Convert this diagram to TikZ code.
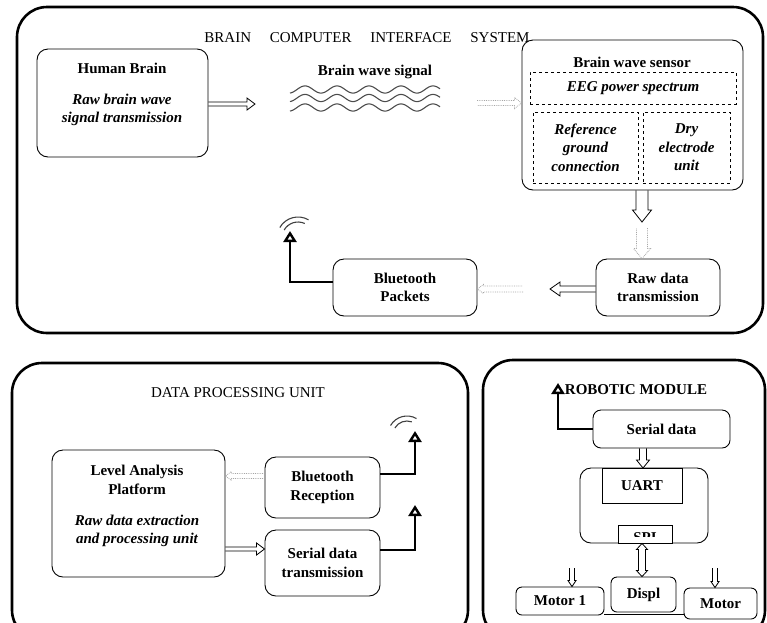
\documentclass[tikz,border=0pt]{standalone}
\usepackage{fontspec}
\setmainfont{Liberation Serif}
\usetikzlibrary{arrows.meta,positioning,calc}

\tikzset{
  panel/.style={draw, line width=2.6pt, rounded corners=30pt},
  box/.style={draw, line width=0.9pt, rounded corners=11pt, inner sep=0pt},
  plain/.style={draw, line width=0.9pt, inner sep=0pt},
  dbox/.style={draw, dashed, line width=0.8pt, inner sep=0pt},
  title/.style={font=\fontsize{15}{18}\selectfont},
  lbl/.style={font=\fontsize{15}{18.5}\selectfont\bfseries, align=center},
  ilbl/.style={font=\fontsize{15}{18.5}\selectfont\bfseries\itshape, align=center},
  faint/.style={draw=gray!70, densely dotted},
  aerial/.style={line width=2.4pt, -{Triangle[open,width=13pt,length=11pt]}},
  airwave/.style={line width=1.1pt, draw=black!75},
}

% hollow block arrow: [options]{from}{to}{half shaft}{half head}{head length}
\newcommand\fatarrow[6][]{%
  \coordinate (fabase) at ($(#3)!#6!(#2)$);
  \draw[line width=0.8pt, line join=miter, #1] ($(#2)!#4!90:(#3)$) -- ($(fabase)!#4!90:(#3)$)
    -- ($(fabase)!#5!90:(#3)$) -- (#3) -- ($(fabase)!#5!-90:(#3)$)
    -- ($(fabase)!#4!-90:(#3)$) -- ($(#2)!#4!-90:(#3)$);
}

\begin{document}
\begin{tikzpicture}[x=1pt,y=-1pt]
\useasboundingbox (0,0) rectangle (767,622);
\clip (0,0) rectangle (767,622);

% brain computer interface system
\draw[panel] (17,7) rectangle (763,333);
\node[title] (bcititle) at (367,38) {BRAIN\quad\ COMPUTER\quad\ INTERFACE\quad\ SYSTEM};

\node[box, minimum width=171pt, minimum height=108pt] (brain) at (122.5,103) {};
\node[lbl] (braintitle) at (122,68) {Human Brain};
\node[ilbl] (brainnote) at (122,110) {Raw brain wave\\signal transmission};

\node[lbl] (wavetitle) at (375,72) {Brain wave signal};
\foreach \yy in {89.5,98,107.5}
  \draw[line width=1.1pt, black!70, domain=290:440, samples=120, smooth]
    plot (\x,{\yy-3.6*sin((\x-297)*11.25)});

\node[box, minimum width=221pt, minimum height=150pt] (sensor) at (632.5,115) {};
\node[lbl] (sensortitle) at (632,62) {Brain wave sensor};
\node[dbox, ilbl, minimum width=206pt, minimum height=32pt] (eeg) at (633,88) {EEG power spectrum};
\node[dbox, ilbl, minimum width=105pt, minimum height=71pt] (refgnd) at (585.5,147.5) {Reference\\ground\\connection};
\node[dbox, ilbl, minimum width=87pt, minimum height=71pt] (dry) at (686.5,147.5) {Dry\\electrode\\unit};

\node[box, lbl, minimum width=124pt, minimum height=57pt] (rawtx) at (658,287.5) {Raw data\\transmission};
\node[box, lbl, minimum width=144pt, minimum height=57pt] (packets) at (405,287.5) {Bluetooth\\Packets};

\coordinate (wavesin) at (255,104);
\coordinate (wavesout) at (477,103);
\coordinate (sensdown) at (642,222);
\coordinate (faintdown) at (642,228);
\coordinate (rawleft) at (550,289);
\coordinate (faintleft) at (523,289);
\coordinate (bcitip) at (290,231);

\fatarrow{brain.east |- wavesin}{wavesin}{2pt}{6pt}{8pt}
\fatarrow[faint]{wavesout}{wavesout -| sensor.west}{2.5pt}{5.5pt}{7pt}
\fatarrow{sensor.south -| sensdown}{sensdown}{6pt}{9.5pt}{12pt}
\fatarrow[faint]{faintdown}{faintdown |- rawtx.north}{5.5pt}{8.5pt}{10pt}
\fatarrow{rawtx.west |- rawleft}{rawleft}{3pt}{7pt}{10pt}
\fatarrow[faint]{faintleft}{faintleft -| packets.east}{3pt}{4.5pt}{6pt}
\draw[aerial] ([yshift=5.5pt]packets.west) -| (bcitip);
\draw[airwave] (bcitip) ++(8,7) ++(-150:21) arc[start angle=-150, end angle=-60, radius=21];
\draw[airwave] (bcitip) ++(8,7) ++(-150:16) arc[start angle=-150, end angle=-65, radius=16];

% data processing unit
\draw[panel] (12,363) rectangle (468,640);
\node[title] (dputitle) at (238,393) {DATA PROCESSING UNIT};

\node[box, minimum width=173pt, minimum height=127pt] (level) at (138.5,513.5) {};
\node[lbl] (leveltitle) at (137,480) {Level Analysis\\Platform};
\node[ilbl] (levelnote) at (137,531) {Raw data extraction\\and processing unit};
\node[box, lbl, minimum width=115pt, minimum height=61pt] (btrx) at (322.5,487.5) {Bluetooth\\Reception};
\node[box, lbl, minimum width=115pt, minimum height=66pt] (sertx) at (322.5,563) {Serial data\\transmission};

\coordinate (btin) at ([yshift=11.5pt]btrx.west);
\coordinate (serin) at ([yshift=14pt]sertx.west);
\coordinate (bttip) at (415,431);
\coordinate (sertip) at (415,505);

\fatarrow[faint]{btin}{btin -| level.east}{2.5pt}{4.5pt}{6pt}
\fatarrow{serin -| level.east}{serin}{2pt}{6pt}{8pt}
\draw[aerial] ([yshift=13.5pt]btrx.east) -| (bttip);
\draw[aerial] ([yshift=13pt]sertx.east) -| (sertip);
\draw[airwave] (bttip) ++(-8,4) ++(-150:19) arc[start angle=-150, end angle=-60, radius=19];
\draw[airwave] (bttip) ++(-8,4) ++(-150:14) arc[start angle=-150, end angle=-70, radius=14];

% robotic module
\draw[panel] (483,360) rectangle (765,640);
\node[lbl] (robtitle) at (636,390) {ROBOTIC MODULE};

\node[box, lbl, rounded corners=8pt, minimum width=137pt, minimum height=38pt] (serial) at (661.5,429) {Serial data};
\node[box, minimum width=128pt, minimum height=75pt] (mcu) at (644,505.5) {};
\node[plain, lbl, minimum width=80pt, minimum height=35pt] (uart) at (642,485.5) {UART};
\node[plain, fill=white, minimum width=54pt, minimum height=18pt] (spi) at (645,534) {};
\begin{scope}
  \clip (618,525) rectangle (672,536);
  \node[lbl] (spitext) at (645,538) {SPI};
\end{scope}

\node[box, lbl, rounded corners=6pt, minimum width=65pt, minimum height=35pt] (displ) at (643.5,594.5) {Displ};
\node[box, lbl, rounded corners=6pt, minimum width=88pt, minimum height=28pt] (motorA) at (560,601) {Motor 1};
\node[box, lbl, rounded corners=6pt, minimum width=73pt, minimum height=31pt] (motorB) at (720.5,603.5) {Motor};

\coordinate (robtip) at (558,383);
\coordinate (uartin) at (643,468);
\coordinate (spibus) at (642,560);
\coordinate (m1in) at (572,568);
\coordinate (m2in) at (715,568);

\draw[aerial] (serial.west) -| (robtip);
\fatarrow{serial.south -| uartin}{uartin}{3.5pt}{6.5pt}{8pt}
\fatarrow{spibus}{spibus |- spi.south}{3.5pt}{5.5pt}{6pt}
\fatarrow{spibus}{spibus |- displ.north}{3.5pt}{5.5pt}{6pt}
\fatarrow{m1in}{m1in |- motorA.north}{2.5pt}{4pt}{6pt}
\fatarrow{m2in}{m2in |- motorB.north}{2.5pt}{4pt}{6pt}
\draw[line width=0.9pt] ([yshift=1pt]motorA.south east) -- ([yshift=1pt]motorA.south east -| motorB.west);
\end{tikzpicture}
\end{document}
